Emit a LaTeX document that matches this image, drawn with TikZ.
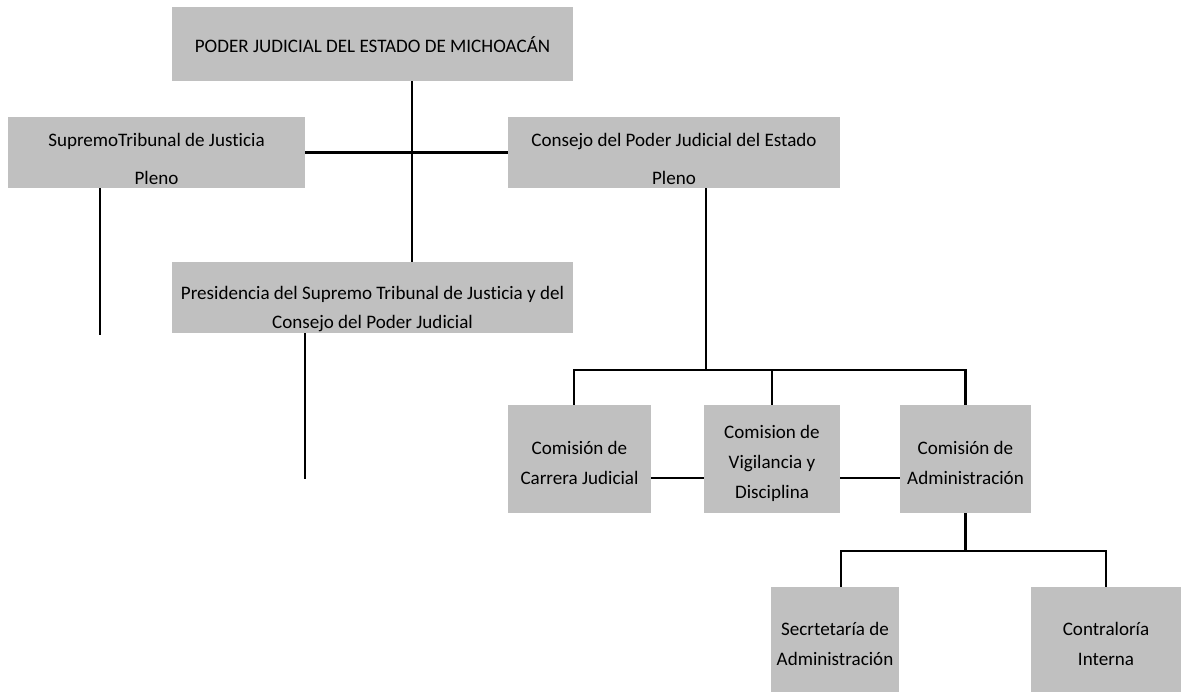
\documentclass[tikz,border=0pt]{standalone}
\usepackage{fontspec}
\setmainfont{Carlito}[Ligatures=NoCommon]
\definecolor{boxgray}{RGB}{192,192,192}

\begin{document}
\begin{tikzpicture}[
  x=0.75pt, y=-0.75pt,
  unit/.style={fill=boxgray, inner sep=0pt},
  txt/.style={inner sep=0pt, align=center, text=black, font=\fontsize{14.3}{22.5}\selectfont},
  head/.style={txt, font=\fontsize{14.3}{28.5}\selectfont},   % Pleno headers
  pres/.style={txt, font=\fontsize{14.3}{21.75}\selectfont},
  link/.style={line width=1.6pt}
]
\useasboundingbox (0,0) rectangle (1181,692);

% Boxes
\node[unit, minimum width=401*0.75pt, minimum height=74*0.75pt] (top)  at (372.5,44)    {};
\node[unit, minimum width=297*0.75pt, minimum height=71*0.75pt] (sup)  at (156.5,152.5) {};
\node[unit, minimum width=332*0.75pt, minimum height=71*0.75pt] (cons) at (674,152.5)   {};
\node[unit, minimum width=401*0.75pt, minimum height=71*0.75pt] (presi) at (372.5,297.5) {};
\node[unit, minimum width=143*0.75pt, minimum height=108*0.75pt] (c1) at (579.5,459) {};
\node[unit, minimum width=136*0.75pt, minimum height=108*0.75pt] (c2) at (772,459)   {};
\node[unit, minimum width=131*0.75pt, minimum height=108*0.75pt] (c3) at (965.5,459) {};
\node[unit, minimum width=128*0.75pt, minimum height=105*0.75pt] (sec) at (835,639.5)  {};
\node[unit, minimum width=150*0.75pt, minimum height=105*0.75pt] (con) at (1106,639.5) {};

% Texts (set a little low in the boxes)
\node[txt]  (top-t)  at ([yshift=-0.6pt]top)  {PODER JUDICIAL DEL ESTADO DE MICHOACÁN};
\node[head] (sup-t)  at ([yshift=-4.5pt]sup)  {SupremoTribunal de Justicia\\Pleno};
\node[head] (cons-t) at ([yshift=-4.5pt]cons) {Consejo del Poder Judicial del Estado\\Pleno};
\node[pres] (presi-t) at ([yshift=-8.4pt]presi) {Presidencia del Supremo Tribunal de Justicia y del\\Consejo del Poder Judicial};
\node[txt]  (c1-t)  at ([yshift=-2.6pt]c1)  {Comisión de\\Carrera Judicial};
\node[txt]  (c2-t)  at ([yshift=-3.6pt]c2)  {Comision de\\Vigilancia y\\Disciplina};
\node[txt]  (c3-t)  at ([yshift=-2.6pt]c3)  {Comisión de\\Administración};
\node[txt]  (sec-t) at ([yshift=-3.4pt]sec) {Secrtetaría de\\Administración};
\node[txt]  (con-t) at ([yshift=-3.4pt]con) {Contraloría\\Interna};

% Junctions and free ends
\coordinate (spine)   at (412,152);
\coordinate (supEnd)  at (100,335);
\coordinate (presEnd) at (305,479);
\coordinate (bus)     at (706,370);
\coordinate (sub)     at (966,551);

% Connectors
\draw[link] (spine |- top.south) -- (spine |- presi.north);
\draw[link] (sup.east) -- (cons.west);
\draw[link] (supEnd |- sup.south) -- (supEnd);
\draw[link] (presEnd |- presi.south) -- (presEnd);
\draw[link] (bus |- cons.south) -- (bus);
\draw[link] ([xshift=-4.1pt]c1.north) |- (bus) -| (c3.north);
\draw[link] (c2.north) -- (c2.north |- bus);
\draw[link] ([yshift=-14pt]c1.east) -- ([yshift=-14pt]c2.west);
\draw[link] ([yshift=-14pt]c2.east) -- ([yshift=-14pt]c3.west);
\draw[link] (c3.south) -- (c3.south |- sub);
\draw[link] ([xshift=4.5pt]sec.north) |- (sub) -| (con.north);

\end{tikzpicture}
\end{document}
